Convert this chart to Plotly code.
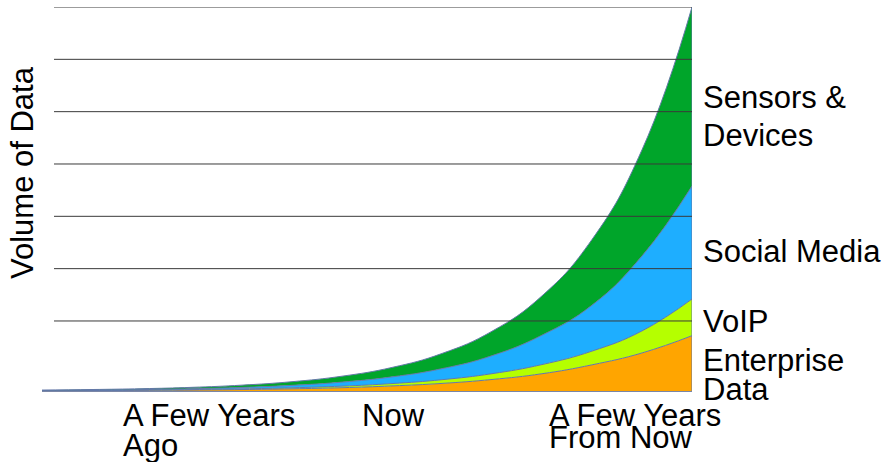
import plotly.graph_objects as go

# ---- data ----
x_vals = list(range(14))  # time steps from "a few years ago" to "a few years from now"
enterprise = [0.006, 0.009, 0.013, 0.019, 0.028, 0.042, 0.063, 0.097, 0.145, 0.220, 0.330, 0.500, 0.727, 1.057]
voip       = [0.002, 0.003, 0.005, 0.008, 0.013, 0.019, 0.030, 0.045, 0.071, 0.111, 0.175, 0.262, 0.421, 0.701]
social     = [0.003, 0.005, 0.009, 0.016, 0.027, 0.047, 0.077, 0.128, 0.211, 0.344, 0.562, 0.878, 1.432, 2.159]
sensors    = [0.006, 0.011, 0.017, 0.027, 0.044, 0.070, 0.113, 0.180, 0.290, 0.467, 0.751, 1.255, 2.029, 3.421]

series_names = ["Enterprise Data", "VoIP", "Social Media", "Sensors & Devices"]
series_values = [enterprise, voip, social, sensors]
series_colors = ["#FFA500", "#B5FF00", "#1EAEFF", "#00A52A"]

# labels (one entry per text line)
right_labels = [("Sensors &", 98), ("Devices", 135), ("Social Media", 251), ("VoIP", 321),
                ("Enterprise", 360), ("Data", 389)]
x_labels = [("A Few Years", 123, 415), ("Ago", 123, 445), ("Now", 362, 415),
            ("A Few Years", 549, 415), ("From Now", 549, 437)]
y_title = "Volume of Data"

W, H = 888, 462
L, R, T, B = 42, 692, 7, 391
FONT = "Liberation Sans, Arial, sans-serif"
FS = 31

def px(xp):
    return (xp - L) / (R - L)

def py(yp):
    return (B - yp) / (B - T)

fig = go.Figure()
for name, vals, col in zip(series_names, series_values, series_colors):
    fig.add_trace(go.Scatter(
        x=x_vals, y=vals, name=name, mode="lines", stackgroup="one",
        line=dict(color="#6478a8", width=1, shape="spline", smoothing=1.3),
        fillcolor=col, hoverinfo="skip"))

# right edge outline of the stack
total_last = sum(v[-1] for v in series_values)
fig.add_trace(go.Scatter(x=[x_vals[-1], x_vals[-1]], y=[0, total_last], mode="lines",
                         line=dict(color="#6478a8", width=1), hoverinfo="skip"))

ymax = total_last
# horizontal grid lines drawn over the areas
n_grid = 7
gap = ymax / ((B - T) / 52.33)
for k in range(n_grid):
    yv = ymax - k * gap
    fig.add_shape(type="line", xref="paper", yref="y", x0=px(54), x1=1, y0=yv, y1=yv,
                  line=dict(color="#3a3a3a", width=1), layer="above")

anns = []
for txt, yp in right_labels:
    anns.append(dict(text=txt, xref="paper", yref="paper", x=px(701), y=py(yp),
                     xanchor="left", yanchor="middle", showarrow=False,
                     font=dict(family=FONT, size=FS, color="black")))
for txt, xp, yp in x_labels:
    anns.append(dict(text=txt, xref="paper", yref="paper", x=px(xp - 2), y=py(yp),
                     xanchor="left", yanchor="middle", showarrow=False,
                     font=dict(family=FONT, size=FS, color="black")))
anns.append(dict(text=y_title, xref="paper", yref="paper", x=px(22), y=py(173),
                 xanchor="center", yanchor="middle", textangle=-90, showarrow=False,
                 font=dict(family=FONT, size=FS, color="black")))

fig.update_layout(
    width=W, height=H,
    margin=dict(l=L, r=W - R, t=T, b=H - B, pad=0),
    paper_bgcolor="white", plot_bgcolor="white",
    showlegend=False,
    annotations=anns,
    xaxis=dict(range=[x_vals[0], x_vals[-1]], showgrid=False, zeroline=False,
               showticklabels=False, ticks="", showline=True, linecolor="#7a86a6", linewidth=1),
    yaxis=dict(range=[0, ymax], showgrid=False, zeroline=False, showticklabels=False,
               ticks="", showline=False),
)

fig.write_html("out.html")
